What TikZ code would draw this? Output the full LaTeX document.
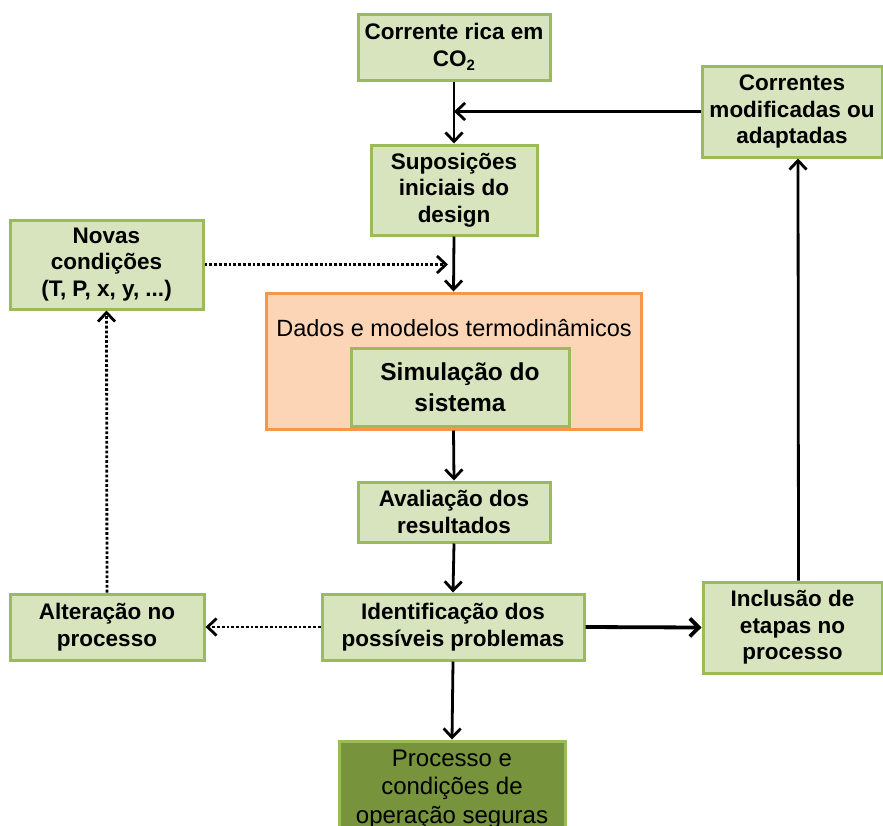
\documentclass[tikz,border=0pt]{standalone}
\usepackage{fontspec}
\setmainfont{Liberation Sans}
\usetikzlibrary{arrows.meta}
\definecolor{lgfill}{HTML}{D7E4BD}
\definecolor{lgdraw}{HTML}{9BBB59}
\definecolor{orfill}{HTML}{FBD5B5}
\definecolor{ordraw}{HTML}{F79646}
\definecolor{dgfill}{HTML}{77933C}
\tikzset{
  box/.style={draw=lgdraw, fill=lgfill, line width=3pt, align=center, inner sep=0pt,
    font=\bfseries\fontsize{22.5}{26.5}\selectfont},
  obox/.style={draw=ordraw, fill=orfill, line width=3pt, inner sep=0pt},
  dbox/.style={draw=lgdraw, fill=dgfill, line width=3pt, align=center, inner sep=0pt,
    font=\fontsize{24}{28.5}\selectfont},
  arr/.style={line width=2.8pt, -{Straight Barb[length=9pt,width=17pt]}},
  darr/.style={line width=2.8pt, dotted, -{Straight Barb[length=9pt,width=17pt]}},
  tarr/.style={line width=3.8pt, -{Straight Barb[length=9pt,width=18pt]}},
}
\begin{document}
\begin{tikzpicture}[x=1pt,y=-1pt]
\useasboundingbox (0,0) rectangle (883,825);
\node[box, minimum width=192, minimum height=66] (n1) at (454,47) {Corrente rica em\\CO\raisebox{-0.35ex}{\fontsize{15}{15}\selectfont 2}};
\node[box, minimum width=180, minimum height=91] (n2) at (792,111.5) {Correntes\\modificadas ou\\adaptadas};
\node[box, minimum width=166, minimum height=90] (n3) at (454,190) {Suposições\\iniciais do\\design};
\node[box, minimum width=193, minimum height=89] (n4) at (106.5,264.5) {Novas\\condições\\(T, P, x, y, ...)};
\node[obox, minimum width=375, minimum height=136] (or) at (453.5,361) {};
\node[font=\fontsize{23.5}{26}\selectfont, inner sep=0pt] (dm) at (454,328) {Dados e modelos termodinâmicos};
\node[box, minimum width=218, minimum height=78, font=\bfseries\fontsize{24.5}{31}\selectfont] (sim) at (460,387) {Simulação do\\sistema};
\node[box, minimum width=192, minimum height=60] (n6) at (454,512) {Avaliação dos\\resultados};
\node[box, minimum width=262, minimum height=66] (n7) at (453,627) {Identificação dos\\possíveis problemas};
\node[box, minimum width=194, minimum height=66] (n8) at (107,627) {Alteração no\\processo};
\node[box, minimum width=179, minimum height=91] (n9) at (792.5,627.5) {Inclusão de\\etapas no\\processo};
\node[dbox, minimum width=226, minimum height=96] (n10) at (452,789) {Processo e\\condições de\\operação seguras};
\coordinate (j1) at (n1.south |- n2.west);
\draw[arr] (n1.south) -- (n3.north);
\draw[arr] (n2.west) -- (j1);
\draw[arr] (n3.south) -- (or.north);
\draw[darr, shorten >=6pt] (n4.east) -- (n3.south |- n4.east);
\draw[arr] (or.south) -- (n6.north);
\draw[arr] (n6.south) -- (n7.north);
\draw[darr] (n7.west) -- (n8.east);
\draw[darr] (n8.north) -- (n4.south);
\draw[tarr] (n7.east) -- (n9.west);
\draw[arr] ([xshift=6pt]n9.north) -- ([xshift=6pt]n2.south);
\draw[arr] (n7.south) -- (n10.north);
\end{tikzpicture}
\end{document}
